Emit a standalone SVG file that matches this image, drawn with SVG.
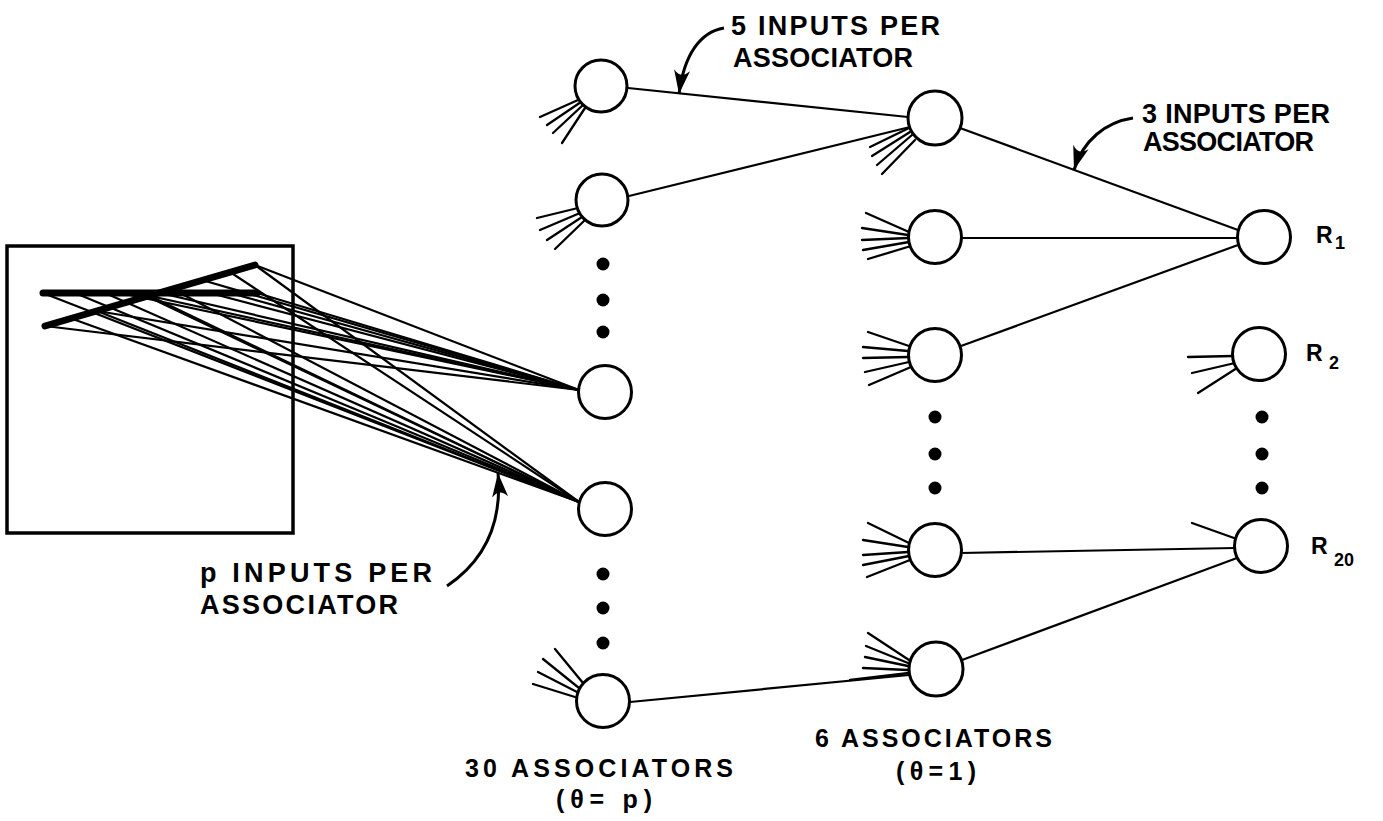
<svg xmlns="http://www.w3.org/2000/svg" width="1383" height="821" viewBox="0 0 1383 821">
  <style>
    .node { fill: #fff; stroke: #000; stroke-width: 3; }
    .edge { fill: none; stroke: #000; stroke-width: 2.2; }
    .fan { fill: none; stroke: #000; stroke-width: 2.3; stroke-linecap: round; }
    .ray { fill: none; stroke: #000; stroke-width: 2.2; }
    .thick { fill: none; stroke: #000; stroke-width: 7; stroke-linecap: round; stroke-linejoin: round; }
    .curve { fill: none; stroke: #000; stroke-width: 3; }
    .dot { fill: #000; }
    .lbl { font-family: "Liberation Sans", Arial, sans-serif; font-weight: bold; font-size: 27px; fill: #000; }
    .cap { font-family: "Liberation Sans", Arial, sans-serif; font-weight: bold; font-size: 25px; fill: #000; }
    .rl { font-family: "Liberation Sans", Arial, sans-serif; font-weight: bold; font-size: 23px; fill: #000; }
    .sub { font-family: "Liberation Sans", Arial, sans-serif; font-weight: bold; font-size: 18px; fill: #000; }
  </style>
  <defs>
    <marker id="head" markerUnits="userSpaceOnUse" markerWidth="30" markerHeight="24" viewBox="-24 -12 30 24" refX="0" refY="0" orient="auto" overflow="visible">
      <path d="M0,0 L-24,-8 Q-15,0 -24,8 Z" fill="#000"/>
    </marker>
  </defs>

  <rect width="1383" height="821" fill="#fff"/>

  <!-- retina -->
  <g id="retina">
    <rect x="7" y="246" width="286" height="287" fill="none" stroke="#000" stroke-width="3.5"/>
    <!-- fibres to the upper associator -->
    <g class="ray">
      <line x1="255" y1="265" x2="579" y2="390"/>
      <line x1="202" y1="280" x2="579" y2="390"/>
      <line x1="257" y1="293" x2="579" y2="390"/>
      <line x1="230" y1="293" x2="579" y2="390"/>
      <line x1="210" y1="293" x2="579" y2="390"/>
      <line x1="160" y1="293" x2="579" y2="390"/>
      <line x1="150" y1="296" x2="579" y2="390"/>
      <line x1="120" y1="293" x2="579" y2="390"/>
      <line x1="97" y1="311" x2="579" y2="390"/>
      <line x1="45" y1="326" x2="579" y2="390"/>
    </g>
    <!-- fibres to the lower associator -->
    <g class="ray">
      <line x1="43" y1="293" x2="579" y2="502"/>
      <line x1="75" y1="293" x2="579" y2="502"/>
      <line x1="105" y1="293" x2="579" y2="502"/>
      <line x1="140" y1="293" x2="579" y2="502"/>
      <line x1="180" y1="293" x2="579" y2="502"/>
      <line x1="97" y1="311" x2="579" y2="502"/>
      <line x1="70" y1="318" x2="579" y2="502"/>
      <line x1="230" y1="272" x2="579" y2="502"/>
      <line x1="255" y1="265" x2="579" y2="502"/>
      <line x1="150" y1="296" x2="579" y2="502"/>
    </g>
    <path class="thick" d="M43,293 L257,293"/>
    <path class="thick" d="M45,326 L255,265"/>
  </g>

  <!-- connectors -->
  <g id="connectors">
    <line class="edge" x1="628" y1="88" x2="908" y2="117"/>
    <line class="edge" x1="629" y1="196" x2="910" y2="127"/>
    <line class="edge" x1="630" y1="702" x2="909" y2="675"/>
    <line class="edge" x1="960" y1="128" x2="1238" y2="230"/>
    <line class="edge" x1="961" y1="238" x2="1237" y2="238"/>
    <line class="edge" x1="961" y1="346" x2="1238" y2="245"/>
    <line class="edge" x1="961" y1="553" x2="1235" y2="548"/>
    <line class="edge" x1="962" y1="660" x2="1237" y2="558"/>
  </g>

  <!-- first associator layer -->
  <g id="a1">
    <g class="fan">
      <line x1="578" y1="100" x2="540" y2="117"/>
      <line x1="581" y1="102" x2="547" y2="125"/>
      <line x1="583" y1="105" x2="553" y2="133"/>
      <line x1="585" y1="108" x2="562" y2="143"/>
    </g>
    <circle class="node" cx="601" cy="86" r="26"/>
  </g>
  <g id="a2">
    <g class="fan">
      <line x1="578" y1="208" x2="537" y2="218"/>
      <line x1="580" y1="213" x2="540" y2="230"/>
      <line x1="582" y1="217" x2="547" y2="240"/>
      <line x1="585" y1="220" x2="555" y2="249"/>
    </g>
    <circle class="node" cx="602" cy="200" r="26"/>
  </g>
  <g id="a-gap1">
    <circle class="dot" cx="603" cy="264" r="6.5"/>
    <circle class="dot" cx="603" cy="300" r="6.5"/>
    <circle class="dot" cx="603" cy="332" r="6.5"/>
  </g>
  <g id="a3">
    <circle class="node" cx="605" cy="392" r="26.5"/>
  </g>
  <g id="a4">
    <circle class="node" cx="605" cy="509" r="26.5"/>
  </g>
  <g id="a-gap2">
    <circle class="dot" cx="603" cy="574" r="6.5"/>
    <circle class="dot" cx="603" cy="608" r="6.5"/>
    <circle class="dot" cx="603" cy="643" r="6.5"/>
  </g>
  <g id="a30">
    <g class="fan">
      <line x1="575" y1="697" x2="533" y2="684"/>
      <line x1="577" y1="692" x2="538" y2="672"/>
      <line x1="579" y1="688" x2="543" y2="659"/>
      <line x1="583" y1="683" x2="555" y2="649"/>
    </g>
    <circle class="node" cx="603" cy="701" r="26.5"/>
  </g>

  <!-- second associator layer -->
  <g id="b1">
    <g class="fan">
      <line x1="909" y1="128" x2="870" y2="147"/>
      <line x1="910" y1="132" x2="872" y2="156"/>
      <line x1="912" y1="135" x2="877" y2="165"/>
      <line x1="915" y1="140" x2="882" y2="174"/>
    </g>
    <circle class="node" cx="935" cy="118" r="27"/>
  </g>
  <g id="b2">
    <g class="fan">
      <line x1="909" y1="232" x2="866" y2="213"/>
      <line x1="908" y1="235" x2="862" y2="228"/>
      <line x1="908" y1="238" x2="862" y2="240"/>
      <line x1="909" y1="242" x2="863" y2="250"/>
      <line x1="911" y1="246" x2="868" y2="259"/>
    </g>
    <circle class="node" cx="935" cy="237" r="26.5"/>
  </g>
  <g id="b3">
    <g class="fan">
      <line x1="909" y1="346" x2="868" y2="332"/>
      <line x1="908" y1="351" x2="863" y2="347"/>
      <line x1="908" y1="357" x2="863" y2="358"/>
      <line x1="909" y1="362" x2="865" y2="372"/>
      <line x1="911" y1="367" x2="869" y2="385"/>
    </g>
    <circle class="node" cx="935" cy="355" r="26.5"/>
  </g>
  <g id="b-gap">
    <circle class="dot" cx="935" cy="417" r="6.5"/>
    <circle class="dot" cx="935" cy="454" r="6.5"/>
    <circle class="dot" cx="935" cy="488" r="6.5"/>
  </g>
  <g id="b5">
    <g class="fan">
      <line x1="909" y1="543" x2="868" y2="523"/>
      <line x1="908" y1="547" x2="863" y2="540"/>
      <line x1="908" y1="552" x2="863" y2="555"/>
      <line x1="909" y1="556" x2="863" y2="565"/>
      <line x1="910" y1="560" x2="867" y2="577"/>
    </g>
    <circle class="node" cx="935" cy="550" r="26.5"/>
  </g>
  <g id="b6">
    <g class="fan">
      <line x1="909" y1="660" x2="868" y2="633"/>
      <line x1="908" y1="663" x2="866" y2="646"/>
      <line x1="908" y1="666" x2="865" y2="657"/>
      <line x1="908" y1="670" x2="863" y2="668"/>
      <line x1="909" y1="673" x2="850" y2="680"/>
    </g>
    <circle class="node" cx="936" cy="669" r="27"/>
  </g>

  <!-- response units -->
  <g id="r1">
    <circle class="node" cx="1264" cy="237" r="26.5"/>
    <text class="rl" x="1316" y="243">R</text>
    <text class="sub" x="1335" y="249">1</text>
  </g>
  <g id="r2">
    <g class="fan">
      <line x1="1233" y1="356" x2="1188" y2="357"/>
      <line x1="1235" y1="363" x2="1192" y2="373"/>
      <line x1="1237" y1="368" x2="1198" y2="393"/>
    </g>
    <circle class="node" cx="1259" cy="354" r="26.5"/>
    <text class="rl" x="1306" y="361">R</text>
    <text class="sub" x="1329" y="369">2</text>
  </g>
  <g id="r-gap">
    <circle class="dot" cx="1262" cy="417" r="6.5"/>
    <circle class="dot" cx="1262" cy="454" r="6.5"/>
    <circle class="dot" cx="1262" cy="488" r="6.5"/>
  </g>
  <g id="r20">
    <g class="fan">
      <line x1="1234" y1="538" x2="1192" y2="523"/>
    </g>
    <circle class="node" cx="1261" cy="546" r="26.5"/>
    <text class="rl" x="1311" y="554">R</text>
    <text class="sub" x="1334" y="566">20</text>
  </g>

  <!-- callouts -->
  <g id="note-5">
    <path class="curve" d="M724,28 C700,32 684,55 679,94" marker-end="url(#head)"/>
    <text class="lbl" x="731" y="35" textLength="209" lengthAdjust="spacing">5 INPUTS PER</text>
    <text class="lbl" x="733" y="67" textLength="180" lengthAdjust="spacing">ASSOCIATOR</text>
  </g>
  <g id="note-3">
    <path class="curve" d="M1133,118 C1106,122 1083,140 1074,170" marker-end="url(#head)"/>
    <text class="lbl" x="1142" y="123" textLength="188" lengthAdjust="spacing">3 INPUTS PER</text>
    <text class="lbl" x="1143" y="151" textLength="171" lengthAdjust="spacing">ASSOCIATOR</text>
  </g>
  <g id="note-p">
    <path class="curve" d="M447,586 C478,565 503,530 498,473" marker-end="url(#head)"/>
    <text class="lbl" x="200" y="582" textLength="232" lengthAdjust="spacing">p INPUTS PER</text>
    <text class="lbl" x="200" y="614" textLength="198" lengthAdjust="spacing">ASSOCIATOR</text>
  </g>

  <!-- layer captions -->
  <g id="caption-30">
    <text class="cap" x="465" y="777" textLength="268" lengthAdjust="spacing">30 ASSOCIATORS</text>
    <text class="cap" x="556" y="808" textLength="96" lengthAdjust="spacing">(θ= p)</text>
  </g>
  <g id="caption-6">
    <text class="cap" x="815" y="747" textLength="237" lengthAdjust="spacing">6 ASSOCIATORS</text>
    <text class="cap" x="896" y="780" textLength="80" lengthAdjust="spacing">(θ=1)</text>
  </g>
</svg>
